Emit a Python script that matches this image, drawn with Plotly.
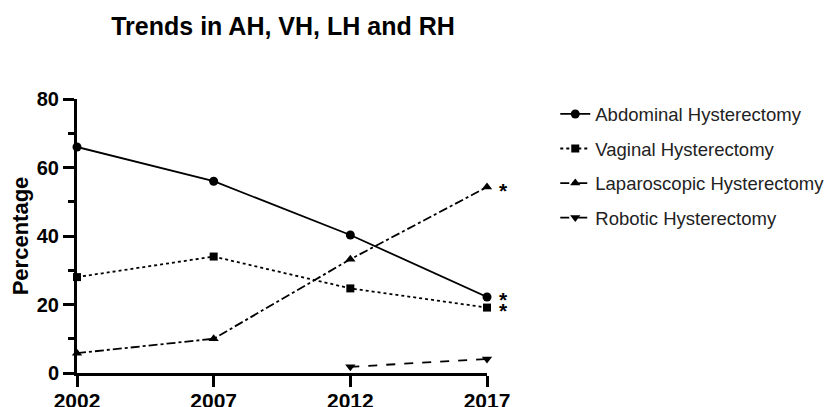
import plotly.graph_objects as go

years = [2002, 2007, 2012, 2017]
abdominal = [66, 56, 40.3, 22.2]
vaginal = [28, 34, 24.7, 19.1]
laparoscopic = [5.8, 10, 33.2, 54.3]
robotic = [None, None, 1.8, 4.1]

series_names = ["Abdominal Hysterectomy", "Vaginal Hysterectomy",
                "Laparoscopic Hysterectomy", "Robotic Hysterectomy"]
series_values = [abdominal, vaginal, laparoscopic, robotic]
dashes = ["solid", "dot", "dashdot", "dash"]
symbols = ["circle", "square", "triangle-up", "triangle-down"]
msizes = [9, 8, 9, 9]

# significance markers at 2017 for these series
star_series = [abdominal, vaginal, laparoscopic]

W, H = 828, 399  # page body has an 8px margin inside the 836x407 window

fig = go.Figure()
for i, (name, vals) in enumerate(zip(series_names, series_values)):
    fig.add_trace(go.Scatter(
        x=years, y=vals, name=name, mode="lines+markers",
        line=dict(color="black", width=1.8, dash=dashes[i]),
        marker=dict(symbol=symbols[i], size=msizes[i], color="black"),
        legendgroup=f"g{i}", connectgaps=False, cliponaxis=False,
    ))

bold = "Liberation Sans, Arial"
for vals in star_series:
    fig.add_annotation(x=years[-1], y=vals[-1], xref="x", yref="y", text="<b>*</b>",
                       showarrow=False, xshift=16, yshift=-3,
                       font=dict(family=bold, size=21, color="black"))

fig.update_layout(
    width=W, height=H,
    margin=dict(l=69, r=349, t=91, b=34, autoexpand=False),
    paper_bgcolor="white", plot_bgcolor="white",
    title=dict(text="<b>Trends in AH, VH, LH and RH</b>", x=275 / W, xanchor="center",
               y=1 - 18 / H, yanchor="middle", yref="container",
               font=dict(family=bold, size=25, color="black"), automargin=False),
    legend=dict(x=1.1665, y=1.013, xanchor="left", yanchor="top",
                font=dict(family=bold, size=18.5, color="#222"),
                traceorder="grouped", tracegroupgap=7.5, bgcolor="rgba(0,0,0,0)"),
    showlegend=True,
)
fig.update_xaxes(range=[2002, 2017], tickvals=years, ticktext=[str(y) for y in years],
                 showline=True, linecolor="black", linewidth=3, mirror=False,
                 ticks="outside", ticklen=11, tickwidth=3, tickcolor="black",
                 ticklabelstandoff=-4,
                 showgrid=False, zeroline=False, automargin=False,
                 tickfont=dict(family=bold, size=21, color="black", weight="bold"))
fig.update_yaxes(range=[0, 80], tickvals=[0, 20, 40, 60, 80],
                 showline=True, linecolor="black", linewidth=3,
                 ticks="outside", ticklen=11, tickwidth=3, tickcolor="black",
                 minor=dict(tickvals=[10, 30, 50, 70], ticks="outside", ticklen=6,
                            tickwidth=3, tickcolor="black"),
                 showgrid=False, zeroline=False, automargin=False,
                 tickfont=dict(family=bold, size=20, color="black", weight="bold"),
                 title=dict(text="<b>Percentage</b>", standoff=4,
                            font=dict(family=bold, size=22, color="black")))
fig.write_html("out.html")
